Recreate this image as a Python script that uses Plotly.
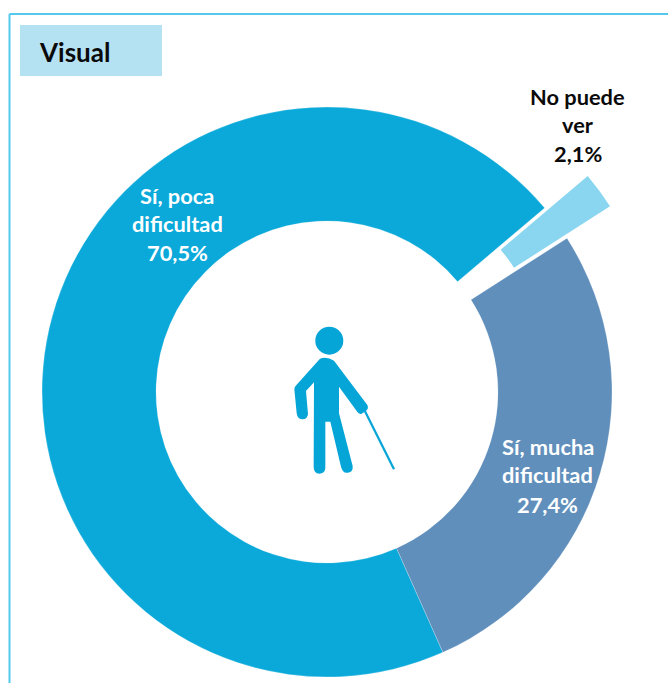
import plotly.graph_objects as go

W, H = 668, 683

# Data
categories = ["Sí, poca dificultad", "No puede ver", "Sí, mucha dificultad"]
values = [70.5, 2.1, 27.4]
label_lines = [["Sí, poca", "dificultad"], ["No puede", "ver"], ["Sí, mucha", "dificultad"]]
title_text = "Visual"

# Style
colors = ["#0AA9D9", "#8AD6F0", "#608FBC"]
text_colors = ["#FFFFFF", "#0A0A0A", "#FFFFFF"]
label_centers = [(177, [195, 223, 252]), (577.5, [96, 124, 153]), (547.5, [446, 474, 504])]
FONT = "Lato"
ICON = "#05A5D8"
FRAME = "#55C8EE"


def px(x):
    return x / W


def py(y):
    return 1 - y / H


def dom(cx, cy, r):
    return dict(x=[px(cx - r), px(cx + r)], y=[py(cy + r), py(cy - r)])


CX, CY, R = 327, 392, 285
ROT = 156

main_colors = [colors[0], "rgba(0,0,0,0)", colors[2]]
pulled_colors = ["rgba(0,0,0,0)", colors[1], "rgba(0,0,0,0)"]

fig = go.Figure()
fig.add_trace(go.Pie(
    labels=categories, values=values, hole=0.6, sort=False, direction="clockwise",
    rotation=ROT, domain=dom(CX, CY, R), textinfo="none", showlegend=False,
    marker=dict(colors=main_colors, line=dict(color="rgba(255,255,255,0.35)", width=0.6)),
))
# Exploded slice: same values, drawn on a pie shifted outward along the slice's bisector
fig.add_trace(go.Pie(
    labels=categories, values=values, hole=0.6, sort=False, direction="clockwise",
    rotation=ROT, domain=dom(CX + 43, CY - 32, R), textinfo="none", showlegend=False,
    marker=dict(colors=pulled_colors, line=dict(width=0)),
    hoverinfo="skip",
))

annotations = []
for lines, val, col, (x, ys) in zip(label_lines, values, text_colors, label_centers):
    texts = lines + [f"{val:.1f}%".replace(".", ",")]
    for t, y in zip(texts, ys):
        annotations.append(dict(
            x=px(x), y=py(y), xref="paper", yref="paper", text=f"<b>{t}</b>",
            showarrow=False, xanchor="center", yanchor="middle",
            font=dict(family=FONT, size=21.8, color=col),
        ))
annotations.append(dict(
    x=px(37), y=py(52), xref="paper", yref="paper", text=f"<b>{title_text}</b>",
    showarrow=False, xanchor="left", yanchor="middle",
    font=dict(family=FONT, size=26, color="#0A0A0A"),
))


def zp(x, y):
    """Icon outline point, from icon-local units to paper coordinates."""
    return f"{px(270 + x / 3):.5f} {py(310 + y / 3):.5f}"


body = (
    f"M{zp(150,146)} Q{zp(170,138)} {zp(192,152)} "
    f"L{zp(292,285)} Q{zp(297,296)} {zp(288,302)} L{zp(275,311)} Q{zp(266,314)} {zp(260,303)} "
    f"L{zp(207,230)} L{zp(207,310)} L{zp(248,468)} Q{zp(250,488)} {zp(232,488)} Q{zp(218,490)} {zp(213,470)} "
    f"L{zp(181,335)} L{zp(166,335)} L{zp(166,475)} Q{zp(164,491)} {zp(148,491)} Q{zp(132,491)} {zp(131,472)} "
    f"L{zp(132,217)} L{zp(108,243)} L{zp(114,312)} Q{zp(112,328)} {zp(98,328)} Q{zp(82,328)} {zp(80,310)} "
    f"L{zp(73,238)} Q{zp(73,230)} {zp(80,224)} Z"
)
cane = f"M{zp(282,298)} L{zp(372,478)}"

shapes = [
    # Frame (top and left rules)
    dict(type="line", xref="paper", yref="paper", x0=px(9.5), x1=1, y0=py(14), y1=py(14),
         line=dict(color=FRAME, width=2)),
    dict(type="line", xref="paper", yref="paper", x0=px(9.5), x1=px(9.5), y0=py(14), y1=0,
         line=dict(color=FRAME, width=2)),
    # Title box
    dict(type="rect", xref="paper", yref="paper", x0=px(20), x1=px(162), y0=py(76), y1=py(25),
         fillcolor="#B5E2F3", line=dict(width=0), layer="below"),
    # Icon
    dict(type="circle", xref="paper", yref="paper", x0=px(315.3), x1=px(343.3), y0=py(354.7), y1=py(326.7),
         fillcolor=ICON, line=dict(width=0)),
    dict(type="path", xref="paper", yref="paper", path=body, fillcolor=ICON, line=dict(width=0)),
    dict(type="path", xref="paper", yref="paper", path=cane, line=dict(color=ICON, width=2.2)),
]

fig.update_layout(
    width=W, height=H, margin=dict(l=0, r=0, t=0, b=0),
    paper_bgcolor="white", plot_bgcolor="white", showlegend=False,
    annotations=annotations, shapes=shapes, font=dict(family=FONT),
)
fig.write_html(
    "out.html",
    config={"displayModeBar": False},
    post_script="document.body.style.margin='0';document.documentElement.style.overflow='hidden';",
)
